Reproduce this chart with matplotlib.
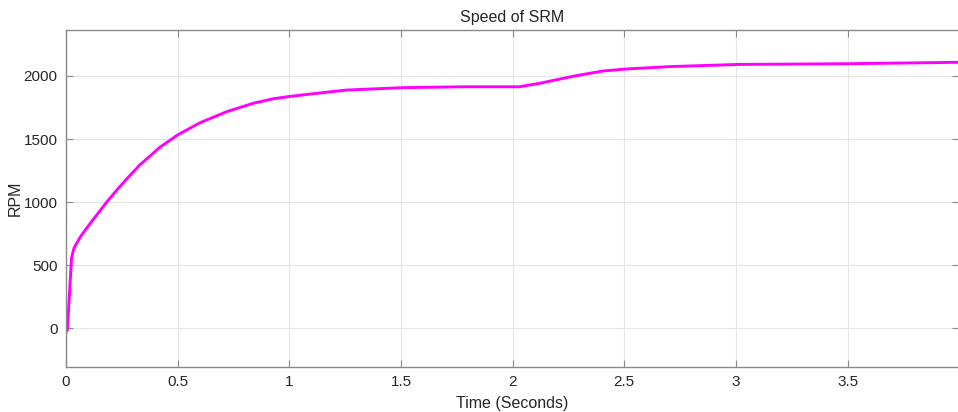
import matplotlib
matplotlib.use("Agg")
import matplotlib.pyplot as plt

# Rotor speed of the switched reluctance motor over time
time_s = [0.000, 0.006, 0.025, 0.036, 0.066, 0.110, 0.162, 0.182, 0.230, 0.270,
          0.331, 0.421, 0.498, 0.600, 0.719, 0.838, 0.928, 1.000, 1.137, 1.257,
          1.510, 1.780, 1.900, 2.030, 2.120, 2.270, 2.405, 2.510, 2.705, 3.010,
          3.510, 4.000]
speed_rpm = [-30, -15, 560, 637, 729, 835, 953, 1000, 1100, 1180,
             1295, 1435, 1530, 1629, 1716, 1783, 1819, 1837, 1865, 1888,
             1907, 1914, 1914, 1914, 1941, 1997, 2039, 2055, 2074, 2091,
             2097, 2108]

x_ticks = [0, 0.5, 1, 1.5, 2, 2.5, 3, 3.5]
x_tick_labels = ["0", "0.5", "1", "1.5", "2", "2.5", "3", "3.5"]
y_ticks = [0, 500, 1000, 1500, 2000]

plt.rcParams["font.family"] = ["Liberation Sans", "DejaVu Sans"]

W, H = 958, 412
fig = plt.figure(figsize=(W / 100, H / 100), dpi=100)
ax = fig.add_axes([66 / W, 1 - 367 / H, 893.2 / W, (367 - 30) / H])

ax.plot(time_s, speed_rpm, color="#FF00FF", linewidth=2.1,
        solid_joinstyle="round", solid_capstyle="round")

ax.set_xlim(0, 4)
ax.set_ylim(-307, 2364)
ax.set_xticks(x_ticks)
ax.set_xticklabels(x_tick_labels)
ax.set_yticks(y_ticks)

ax.grid(True, color="#e6e6e6", linewidth=0.8)
ax.set_axisbelow(True)
for side in ("left", "bottom", "top", "right"):
    ax.spines[side].set_color("#8a8a8a")
    ax.spines[side].set_linewidth(1.0)

ax.tick_params(axis="both", direction="in", length=5, width=0.8, color="#8a8a8a",
               labelsize=11, labelcolor="#262626", top=True, right=True, pad=6)

ax.set_title("Speed of SRM", fontsize=11.5, color="#262626", pad=6)
ax.set_xlabel("Time (Seconds)", fontsize=11.5, color="#262626", labelpad=5)
ax.set_ylabel("RPM", fontsize=11.5, color="#262626", labelpad=1)

fig.savefig("out.png", dpi=100, facecolor="white")
